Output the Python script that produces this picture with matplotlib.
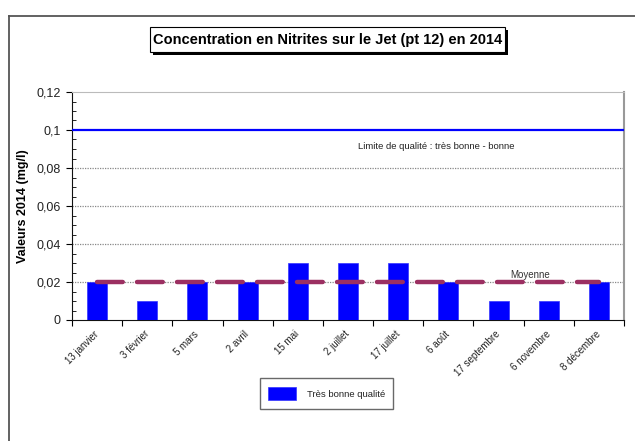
import matplotlib
matplotlib.use("Agg")
import matplotlib.pyplot as plt
from matplotlib.patches import Rectangle
from matplotlib.ticker import FixedLocator, MultipleLocator, FuncFormatter
import numpy as np

plt.rcParams['font.family'] = ['Liberation Sans', 'DejaVu Sans']

# Nitrite measurements (mg/l) at the Jet sampling point, 2014
dates = ["13 janvier", "3 février", "5 mars", "2 avril", "15 mai", "2 juillet",
         "17 juillet", "6 août", "17 septembre", "6 novembre", "8 décembre"]
nitrites = [0.02, 0.01, 0.02, 0.02, 0.03, 0.03, 0.03, 0.02, 0.01, 0.01, 0.02]
quality_limit = 0.1
mean_value = sum(nitrites) / len(nitrites)

title = "Concentration en Nitrites sur le Jet (pt 12) en 2014"
ylabel = "Valeurs 2014 (mg/l)"
limit_label = "Limite de qualité : très bonne - bonne"
mean_label = "Moyenne"
bar_label = "Très bonne qualité"

W, H = 635, 441
fig = plt.figure(figsize=(W / 100, H / 100), dpi=100)

def fx(px):
    return px / W

def fy(py):
    return 1 - py / H

# outer chart-area frame (top and left edges visible)
fig.add_artist(plt.Line2D([fx(9), fx(9)], [0, fy(16)], color='#555555', lw=1.3,
                          transform=fig.transFigure))
fig.add_artist(plt.Line2D([fx(9), 1], [fy(16), fy(16)], color='#555555', lw=1.3,
                          transform=fig.transFigure))

ax = fig.add_axes([fx(72), fy(320), fx(624) - fx(72), fy(92) - fy(320)])
x = np.arange(len(dates))

bars = ax.bar(x, nitrites, width=0.4, color='#0000ff', edgecolor='#3333ff',
              linewidth=0.5, label=bar_label, zorder=3)

ax.axhline(quality_limit, color='#0000ff', lw=1.6, zorder=4)
ax.plot([x[0], x[-1]], [mean_value, mean_value], color='#9b2f61', lw=3.2,
        dashes=(5.8, 3.2), solid_capstyle='round', dash_capstyle='round', zorder=5)

ax.set_xlim(-0.5, len(dates) - 0.5)
ax.set_ylim(0, 0.12)

# horizontal dotted grid
for yv in [0.02, 0.04, 0.06, 0.08]:
    ax.axhline(yv, color='#888888', lw=0.9, ls=(0, (1, 1)), zorder=1)

ax.yaxis.set_major_locator(MultipleLocator(0.02))
ax.yaxis.set_minor_locator(MultipleLocator(0.005))
ax.yaxis.set_major_formatter(FuncFormatter(
    lambda v, p: "0" if abs(v) < 1e-9 else f"{v:.2f}".rstrip('0').replace('.', ',')))
ax.tick_params(axis='y', which='major', direction='out', length=4, width=0.8,
               labelsize=9, labelcolor='#222222', pad=4)
ax.tick_params(axis='y', which='minor', direction='in', length=3, width=0.6)

# category boundaries carry the ticks, centres carry the labels
ax.xaxis.set_major_locator(FixedLocator(np.arange(-0.5, len(dates), 1.0)))
ax.xaxis.set_minor_locator(FixedLocator(x))
ax.set_xticklabels([])
ax.set_xticks(x, minor=True)
ax.set_xticklabels(dates, minor=True, rotation=45, ha='right', va='center',
                   rotation_mode='anchor', fontsize=7, color='#222222')
ax.tick_params(axis='x', which='major', direction='out', length=4, width=0.8)
ax.tick_params(axis='x', which='minor', length=0, pad=9)

ax.spines['left'].set_color('#111111')
ax.spines['bottom'].set_color('#111111')
ax.spines['top'].set_color('#bbbbbb')
ax.spines['right'].set_color('#999999')
ax.spines['right'].set_linewidth(1.5)

ax.set_ylabel(ylabel, fontsize=9, fontweight='bold')
ax.yaxis.set_label_coords((29 - 72) / 552, 0.5)

ax.text(5.2, quality_limit - 0.0085, limit_label, fontsize=6.8, color='#222222',
        ha='left', va='center')
ax.text(8.62, mean_value + 0.0008, mean_label, fontsize=7, color='#333333',
        ha='center', va='bottom')

# title box with drop shadow
fig.add_artist(Rectangle((fx(153), fy(55)), fx(505) - fx(150), fy(27) - fy(52),
                         transform=fig.transFigure, facecolor='black',
                         edgecolor='black', lw=0))
fig.add_artist(Rectangle((fx(150), fy(52)), fx(505) - fx(150), fy(27) - fy(52),
                         transform=fig.transFigure, facecolor='white',
                         edgecolor='black', lw=0.8))
fig.text(fx(327.5), fy(40), title, fontsize=10.5, fontweight='bold',
         ha='center', va='center')

leg = fig.legend(handles=[bars], labels=[bar_label], loc='center',
                 bbox_to_anchor=(fx(326.5), fy(393.5)), fontsize=6.8,
                 frameon=True, fancybox=False, edgecolor='#444444',
                 handlelength=3.0, handleheight=1.9, handletextpad=1.1,
                 borderpad=0.9, borderaxespad=0)
leg.get_frame().set_linewidth(1.0)
for t in leg.get_texts():
    t.set_color('#222222')

fig.savefig("out.png", dpi=100)
